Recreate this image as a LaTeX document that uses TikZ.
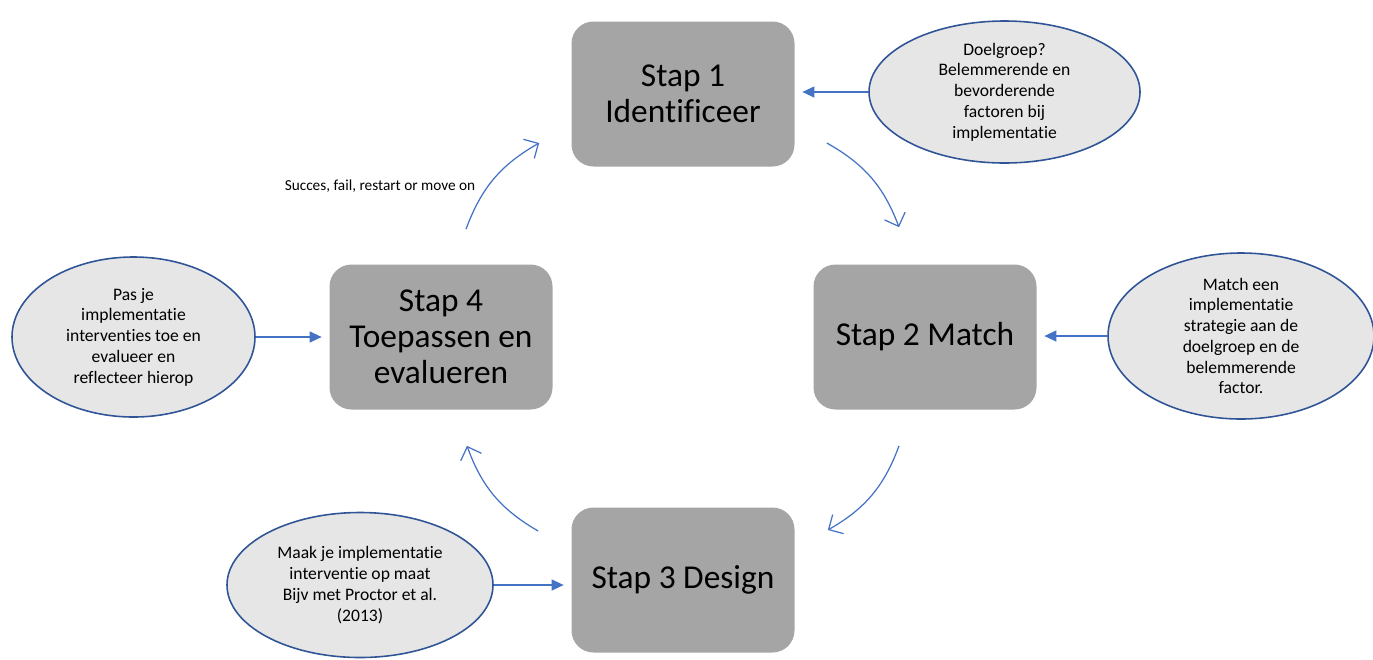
\documentclass[tikz,border=0pt]{standalone}
\usepackage{fontspec}
\setmainfont{Carlito}[Ligatures=CommonOff]
\usepackage{tikz}
\usetikzlibrary{shapes.geometric,arrows.meta}

\definecolor{arrowblue}{RGB}{68,114,196}
\definecolor{rimblue}{RGB}{47,85,151}
\definecolor{boxgrey}{RGB}{165,165,165}
\definecolor{ovalgrey}{RGB}{231,230,230}

\begin{document}
\begin{tikzpicture}[
  stapbox/.style={fill=boxgrey, rounded corners=0.44cm, minimum width=4.46cm, minimum height=2.9cm, align=center, font=\fontsize{19}{20.5}\selectfont},
  oval/.style={ellipse, draw=rimblue, line width=0.9pt, fill=ovalgrey, inner sep=0pt, align=center, font=\fontsize{10}{11.8}\selectfont},
  feed/.style={draw=arrowblue, line width=0.7pt, -{Triangle[length=2.4mm,width=2.2mm]}, shorten >=0.15cm},
  loop/.style={draw=arrowblue, line width=0.7pt, -{Straight Barb[length=2.2mm,width=4.4mm]}, bend left=20}
]

\useasboundingbox (0,0) rectangle (27.46,-13.18);

% the four steps
\node [stapbox] (s1) at (13.66,-1.88) {Stap 1\\Identificeer};
\node [stapbox] (s2) at (18.50,-6.74) {Stap 2 Match};
\node [stapbox] (s3) at (13.66,-11.60) {Stap 3 Design};
\node [stapbox] (s4) at (8.82,-6.74) {Stap 4\\Toepassen en\\evalueren};

% explanations
\node [oval, minimum width=5.42cm, minimum height=2.84cm] (e1) at (20.09,-1.84) {Doelgroep?\\Belemmerende en\\bevorderende\\factoren bij\\implementatie};
\node [oval, minimum width=5.32cm, minimum height=3.32cm] (e2) at (24.82,-6.72) {Match een\\implementatie\\strategie aan de\\doelgroep en de\\belemmerende\\factor.};
\node [oval, minimum width=4.86cm, minimum height=3.2cm] (e3) at (2.67,-6.74) {Pas je\\implementatie\\interventies toe en\\evalueer en\\reflecteer hierop};
\node [oval, minimum width=5.32cm, minimum height=2.9cm] (e4) at (7.20,-11.70) {Maak je implementatie\\interventie op maat\\Bijv met Proctor et al.\\(2013)};

\draw [feed] (e1.west) -- (e1.west -| s1.east);
\draw [feed] (e2.west) -- (e2.west -| s2.east);
\draw [feed] (e3.east) -- (e3.east -| s4.west);
\draw [feed] (e4.east) -- (e4.east -| s3.west);

% cycle
\coordinate (c1a) at ([shift={(0.64,-0.98)}]s1.east);
\coordinate (c1b) at ([shift={(-0.52,0.74)}]s2.north);
\coordinate (c2a) at ([shift={(-0.52,-0.72)}]s2.south);
\coordinate (c2b) at ([shift={(0.66,1.0)}]s3.east);
\coordinate (c3a) at ([shift={(-0.66,0.98)}]s3.west);
\coordinate (c3b) at ([shift={(0.52,-0.72)}]s4.south);
\coordinate (c4a) at ([shift={(0.5,0.7)}]s4.north);
\coordinate (c4b) at ([shift={(-0.64,-0.98)}]s1.west);

\draw [loop] (c1a) to (c1b);
\draw [loop] (c2a) to (c2b);
\draw [loop] (c3a) to (c3b);
\draw [loop] (c4a) to (c4b);

\node [font=\fontsize{8.7}{10}\selectfont] (lbl) at (7.6,-3.72) {Succes, fail, restart or move on};

\end{tikzpicture}
\end{document}
